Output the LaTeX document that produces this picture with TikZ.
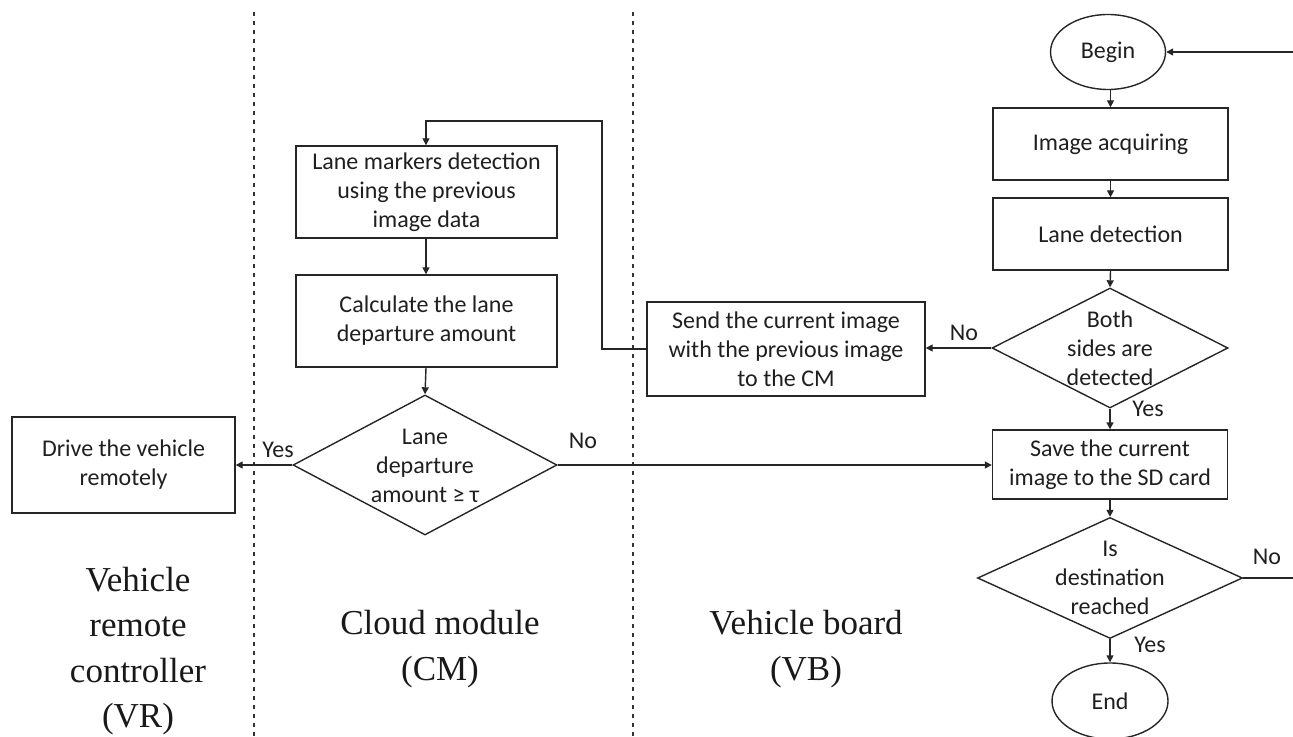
\documentclass[tikz,border=0pt]{standalone}
\usepackage{fontspec}
\setmainfont{Carlito}
\newfontfamily\serifT{Liberation Serif}
\usetikzlibrary{shapes.geometric,arrows.meta}
\begin{document}
\begin{tikzpicture}[x=0.5pt,y=-0.5pt,
  every node/.style={text=black!88},
  txt/.style={font=\fontsize{12}{14.5}\selectfont, align=center, inner sep=0pt},
  box/.style={draw=black!85, line width=0.7pt, rectangle, inner sep=0pt, txt},
  dia/.style={draw=black!85, line width=0.7pt, diamond, inner sep=0pt},
  oval/.style={draw=black!85, line width=0.7pt, ellipse, inner sep=0pt, txt},
  arr/.style={draw=black!85, line width=0.7pt, -{Triangle[length=3.5pt,width=3.5pt]}},
  lane/.style={draw=black!80, line width=0.55pt, dash pattern=on 2.2pt off 2.3pt},
  lbl/.style={txt},
  big/.style={font=\serifT\fontsize{17.5}{22.7}\selectfont, align=center, inner sep=0pt, text=black!90}
]
\useasboundingbox (0,0) rectangle (1293,737);
% swim lane separators
\coordinate (d1t) at (254,12);
\coordinate (d1b) at (254,737);
\coordinate (d2t) at (633,12);
\coordinate (d2b) at (633,737);
\draw[lane] (d1t) -- (d1b);
\draw[lane] (d2t) -- (d2b);
% nodes
\node[oval, minimum width=57.5pt, minimum height=37.5pt] (begin) at (1108,52) {Begin};
\node[box, minimum width=117.5pt, minimum height=36pt] (img) at (1110.5,144) {Image acquiring};
\node[box, minimum width=117.5pt, minimum height=36pt] (lane) at (1110.5,234) {Lane detection};
\node[dia, minimum width=118pt, minimum height=60pt] (both) at (1110,348) {};
\node[txt] (bothT) at (both.center) {Both\\sides are\\detected};
\node[box, minimum width=139pt, minimum height=47pt] (send) at (786,349) {Send the current image\\with the previous image\\to the CM};
\node[box, minimum width=130.5pt, minimum height=46pt] (lm) at (426.5,192) {Lane markers detection\\using the previous\\image data};
\node[box, minimum width=130.5pt, minimum height=46pt] (calc) at (426.5,321) {Calculate the lane\\departure amount};
\node[dia, minimum width=132pt, minimum height=70pt] (ldd) at (425,465) {};
\node[txt] (lddT) at (425,466) {Lane\\departure\\amount ≥ τ};
\node[box, minimum width=111.5pt, minimum height=48pt] (drive) at (123.5,465) {Drive the vehicle\\remotely};
\node[box, minimum width=117.5pt, minimum height=34.5pt] (save) at (1110,464.5) {Save the current\\image to the SD card};
\node[dia, minimum width=132.5pt, minimum height=60.5pt] (dest) at (1110,578) {};
\node[txt] (destT) at (dest.center) {Is\\destination\\reached};
\node[oval, minimum width=58pt, minimum height=38pt] (end) at (1110,701) {End};
% column coordinates
\coordinate (colx) at (426,0);
\coordinate (colr) at (1110.5,0);
\coordinate (c1) at (602,121);
\coordinate (rt) at (1297,52);
% connectors
\draw[arr] (begin.south -| colr) -- (img.north -| colr);
\draw[arr] (img.south -| colr) -- (lane.north -| colr);
\draw[arr] (lane.south -| colr) -- (both.north);
\draw[arr] (both.south) -- (save.north -| both.south);
\draw[arr] (both.west) -- (send.east |- both.west);
\draw[arr] (send.west) -| (c1) -| (lm.north -| colx);
\draw[arr] (lm.south -| colx) -- (calc.north -| colx);
\draw[arr] (calc.south -| colx) -- (ldd.north);
\draw[arr] (ldd.west) -- (drive.east |- ldd.west);
\draw[arr] (ldd.east) -- (save.west |- ldd.east);
\draw[arr] (save.south -| dest.north) -- (dest.north);
\draw[arr] (dest.south) -- (end.north);
\draw[arr] (dest.east) -| (rt) -- (begin.east);
% labels
\node[lbl] (noA) at (964,333) {No};
\node[lbl] (yesA) at (1148,409) {Yes};
\node[lbl] (yesB) at (278,450) {Yes};
\node[lbl] (noB) at (583,441) {No};
\node[lbl] (noC) at (1267,557) {No};
\node[lbl] (yesC) at (1150,645) {Yes};
% lane titles
\node[big] (vr) at (138,651) {Vehicle\\remote\\controller\\(VR)};
\node[big] (cm) at (440,649) {Cloud module\\(CM)};
\node[big] (vb) at (806,649) {Vehicle board\\(VB)};
\end{tikzpicture}
\end{document}
